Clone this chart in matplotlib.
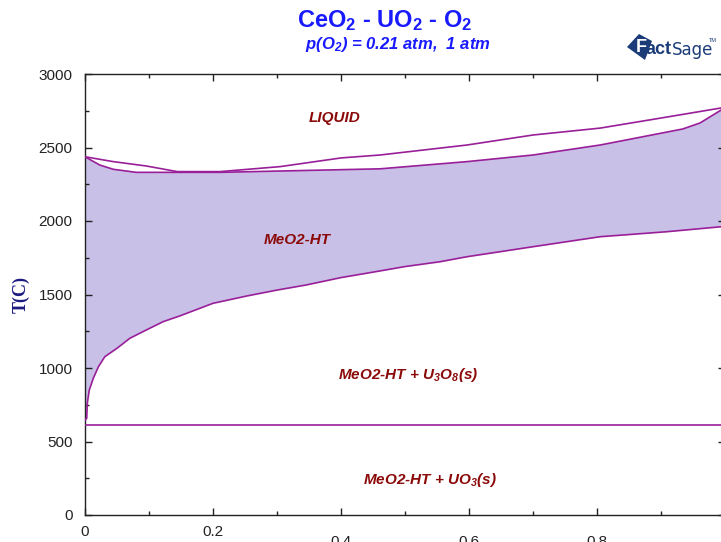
import numpy as np
import matplotlib
matplotlib.use('Agg')
import matplotlib.pyplot as plt
from matplotlib.patches import Polygon
from matplotlib.ticker import MultipleLocator

plt.rcParams['font.family'] = ['Liberation Sans', 'DejaVu Sans']
plt.rcParams['mathtext.fontset'] = 'custom'
plt.rcParams['mathtext.rm'] = 'Liberation Sans'
plt.rcParams['mathtext.it'] = 'Liberation Sans:italic'
plt.rcParams['mathtext.bf'] = 'Liberation Sans:bold'
plt.rcParams['mathtext.bfit'] = 'Liberation Sans:bold:italic'

# ── phase boundaries (x = mole fraction, T in C) ───────────────────────────
liq_x = [0.0, 0.044, 0.096, 0.144, 0.211, 0.305, 0.40, 0.461, 0.597, 0.70, 0.805, 0.909, 0.994, 1.0]
liq_T = [2437, 2404, 2374, 2336, 2336, 2370, 2429, 2449, 2517, 2585, 2632, 2707, 2769, 2775]

sol_x = [0.0, 0.023, 0.044, 0.08, 0.211, 0.336, 0.461, 0.597, 0.70, 0.805, 0.934, 0.961, 0.994, 1.0]
sol_T = [2437, 2381, 2352, 2331, 2331, 2343, 2355, 2404, 2449, 2517, 2626, 2667, 2755, 2775]

solv_x = [0.0, 0.0027, 0.0036, 0.0067, 0.013, 0.021, 0.031, 0.050, 0.070, 0.096, 0.122,
          0.148, 0.200, 0.253, 0.30, 0.346, 0.40, 0.45, 0.50, 0.555, 0.597, 0.70, 0.805,
          0.909, 0.994, 1.0]
solv_T = [645, 658, 760, 850, 930, 1009, 1077, 1134, 1202, 1259, 1315,
          1354, 1440, 1490, 1530, 1565, 1615, 1652, 1690, 1723, 1757, 1825, 1893,
          1927, 1961, 1965]

eut_T = 613  # U3O8 / UO3 boundary

labels = ['LIQUID', 'MeO2-HT', r'MeO2-HT + U$\mathbfit{_3}$O$\mathbfit{_8}$(s)',
          r'MeO2-HT + UO$\mathbfit{_3}$(s)']
label_x = [0.39, 0.331, 0.505, 0.539]
label_T = [2700, 1871, 952, 238]

line_c = '#991f99'
fill_c = '#c8c0e6'
text_c = '#8b0a0a'
blue = '#1a1aff'
navy = '#1b3c78'

fig = plt.figure(figsize=(7.21, 5.42), dpi=100)
ax = fig.add_axes([85 / 721, 27 / 542, 640 / 721, 441 / 542])

# MeO2-HT single phase field
ax.fill(np.concatenate([sol_x, solv_x[::-1]]), np.concatenate([sol_T, solv_T[::-1]]),
        color=fill_c, lw=0, zorder=1)
ax.plot(liq_x, liq_T, color=line_c, lw=1.2, zorder=3)
ax.plot(sol_x, sol_T, color=line_c, lw=1.2, zorder=3)
ax.plot(solv_x, solv_T, color=line_c, lw=1.2, zorder=3)
ax.axhline(eut_T, color=line_c, lw=1.2, zorder=3)

for s, x, t in zip(labels, label_x, label_T):
    ax.text(x, t, s, ha='center', va='center', color=text_c, fontsize=11,
            fontweight='bold', fontstyle='italic', zorder=5)

ax.set_xlim(0, 1)
ax.set_ylim(0, 3000)
ax.xaxis.set_major_locator(MultipleLocator(0.2))
ax.xaxis.set_minor_locator(MultipleLocator(0.1))
ax.yaxis.set_major_locator(MultipleLocator(500))
ax.yaxis.set_minor_locator(MultipleLocator(250))
ax.tick_params(which='both', direction='in', top=True, right=True, colors='#222222')
ax.tick_params(which='major', length=5, width=1)
ax.tick_params(which='minor', length=3, width=1)
ax.tick_params(axis='y', labelsize=11, pad=9)
ax.tick_params(axis='x', labelsize=11, pad=7)
ax.set_xticks([0, 0.2, 0.4, 0.6, 0.8, 1.0], ['0', '0.2', '', '', '', ''])
# the remaining x labels sit lower and are cut by the bottom edge, as in the original
for x in [0.4, 0.6, 0.8]:
    ax.annotate(f'{x:.1f}', xy=(x, 0), xycoords=('data', 'axes fraction'),
                xytext=(0, -14.5), textcoords='offset points', ha='center', va='top',
                fontsize=11, color='#222222', annotation_clip=False)
for sp in ax.spines.values():
    sp.set_linewidth(1)
    sp.set_color('#222222')

ax.set_ylabel('T(C)', family='Liberation Serif', fontweight='bold', fontsize=13,
              color='#1a1a80', labelpad=6)

fig.text(385 / 721, 1 - 21 / 542, r'CeO$\mathbf{_2}$ - UO$\mathbf{_2}$ - O$\mathbf{_2}$',
         ha='center', va='center', color=blue, fontsize=17, fontweight='bold')
fig.text(398 / 721, 1 - 45 / 542, r'p(O$\mathbfit{_2}$) = 0.21 atm,  1 atm',
         ha='center', va='center', color=blue, fontsize=12, fontweight='bold',
         fontstyle='italic')

# FactSage logo (rough): tilted square with a white F, then the lettering
sq = np.array([[627, 47], [639, 34], [652, 41], [645, 60]])
fig.patches.append(Polygon(np.column_stack([sq[:, 0] / 721, 1 - sq[:, 1] / 542]),
                           closed=True, transform=fig.transFigure, facecolor=navy,
                           edgecolor='none'))
fig.text(636 / 721, 1 - 48 / 542, 'F', ha='left', va='center', color='white',
         fontsize=13, fontweight='bold')
fig.text(646 / 721, 1 - 50 / 542, 'act', ha='left', va='center', color=navy,
         fontsize=13, fontweight='bold')
fig.text(672 / 721, 1 - 50 / 542, 'Sage', ha='left', va='center', color=navy,
         fontsize=12, family='Liberation Sans Narrow')
fig.text(709 / 721, 1 - 40 / 542, 'TM', ha='left', va='center', color=navy, fontsize=4)

fig.savefig('out.png', dpi=100)
